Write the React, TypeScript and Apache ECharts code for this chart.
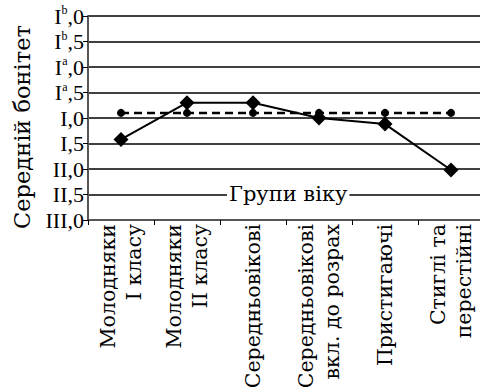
import React, { useEffect, useRef } from "react";
import * as echarts from "echarts";

const categories = [
  "Молодняки\nI класу",
  "Молодняки\nII класу",
  "Середньовікові",
  "Середньовікові\nвкл. до розрах",
  "Пристигаючі",
  "Стиглі та\nперестійні",
];
// y index: 0 = III,0 ... 8 = I^b,0
const yTickLabels = ["III,0", "II,5", "II,0", "I,5", "I,0", "I^a,5", "I^a,0", "I^b,5", "I^b,0"];
const actualValues = [3.16, 4.6, 4.6, 4.0, 3.76, 1.96];
const normValues = [4.2, 4.2, 4.2, 4.2, 4.2, 4.2];

const yAxisTitle = "Середній бонітет";
const xAxisTitle = "Групи віку";

function fmtY(v: number): string {
  const s = yTickLabels[Math.round(v)];
  if (s === undefined) return "";
  const m = s.match(/^([IV]+)\^([ab]),(\d)$/);
  if (m) return `{n|${m[1]}}{s|${m[2]}}{n|,${m[3]}}`;
  return `{n|${s}}`;
}

export default function App() {
  const ref = useRef<HTMLDivElement>(null);
  useEffect(() => {
    document.body.style.margin = "0";
    const chart = echarts.init(ref.current!, null, { renderer: "svg" });
    const font = "Liberation Serif";
    const cyr = "DejaVu Serif";
    chart.setOption({
      animation: false,
      backgroundColor: "#fff",
      textStyle: { fontFamily: font, color: "#000" },
      grid: { left: 88, top: 16, width: 396, height: 204, outerBoundsMode: "none", containLabel: false },
      xAxis: {
        type: "category",
        data: categories,
        boundaryGap: true,
        axisLine: { show: true, lineStyle: { color: "#555", width: 2 } },
        axisTick: { show: true, length: 5, lineStyle: { color: "#000", width: 1 } },
        axisLabel: {
          rotate: 90,
          interval: 0,
          fontSize: 20.5,
          lineHeight: 26,
          color: "#000",
          fontFamily: cyr,
          margin: 4,
        },
        splitLine: { show: false },
      },
      yAxis: {
        type: "value",
        min: 0,
        max: 8,
        interval: 1,
        axisLine: { show: true, lineStyle: { color: "#555", width: 2 } },
        axisTick: { show: true, length: 5, lineStyle: { color: "#000", width: 1 } },
        splitLine: { show: true, lineStyle: { color: "#000", width: 1.5 } },
        axisLabel: {
          formatter: fmtY,
          margin: 4,
          color: "#000",
          rich: {
            n: { fontSize: 22, fontFamily: font, color: "#000" },
            s: { fontSize: 12, fontFamily: font, color: "#000", padding: [0, 0, 12, 0] },
          },
        },
      },
      graphic: [
        {
          type: "text",
          z: 100,
          x: 22,
          y: 127,
          rotation: Math.PI / 2,
          style: {
            text: yAxisTitle,
            fontSize: 22.5,
            fontFamily: cyr,
            fill: "#000",
            align: "center",
            verticalAlign: "middle",
          },
        },
        {
          type: "text",
          z: 100,
          left: 227,
          top: 182,
          style: {
            text: xAxisTitle,
            fontSize: 21,
            fontFamily: cyr,
            fill: "#000",
            backgroundColor: "#fff",
            padding: [1, 2, 1, 2],
          },
        },
      ],
      series: [
        {
          type: "line",
          data: normValues,
          symbol: "circle",
          symbolSize: 8,
          itemStyle: { color: "#000" },
          lineStyle: { color: "#000", width: 2.5, type: [8, 5] },
          z: 3,
        },
        {
          type: "line",
          data: actualValues,
          symbol: "diamond",
          symbolSize: 15,
          itemStyle: { color: "#000" },
          lineStyle: { color: "#000", width: 2 },
          z: 4,
        },
      ],
    });
    return () => chart.dispose();
  }, []);
  return <div ref={ref} style={{ width: 480, height: 391 }} />;
}
